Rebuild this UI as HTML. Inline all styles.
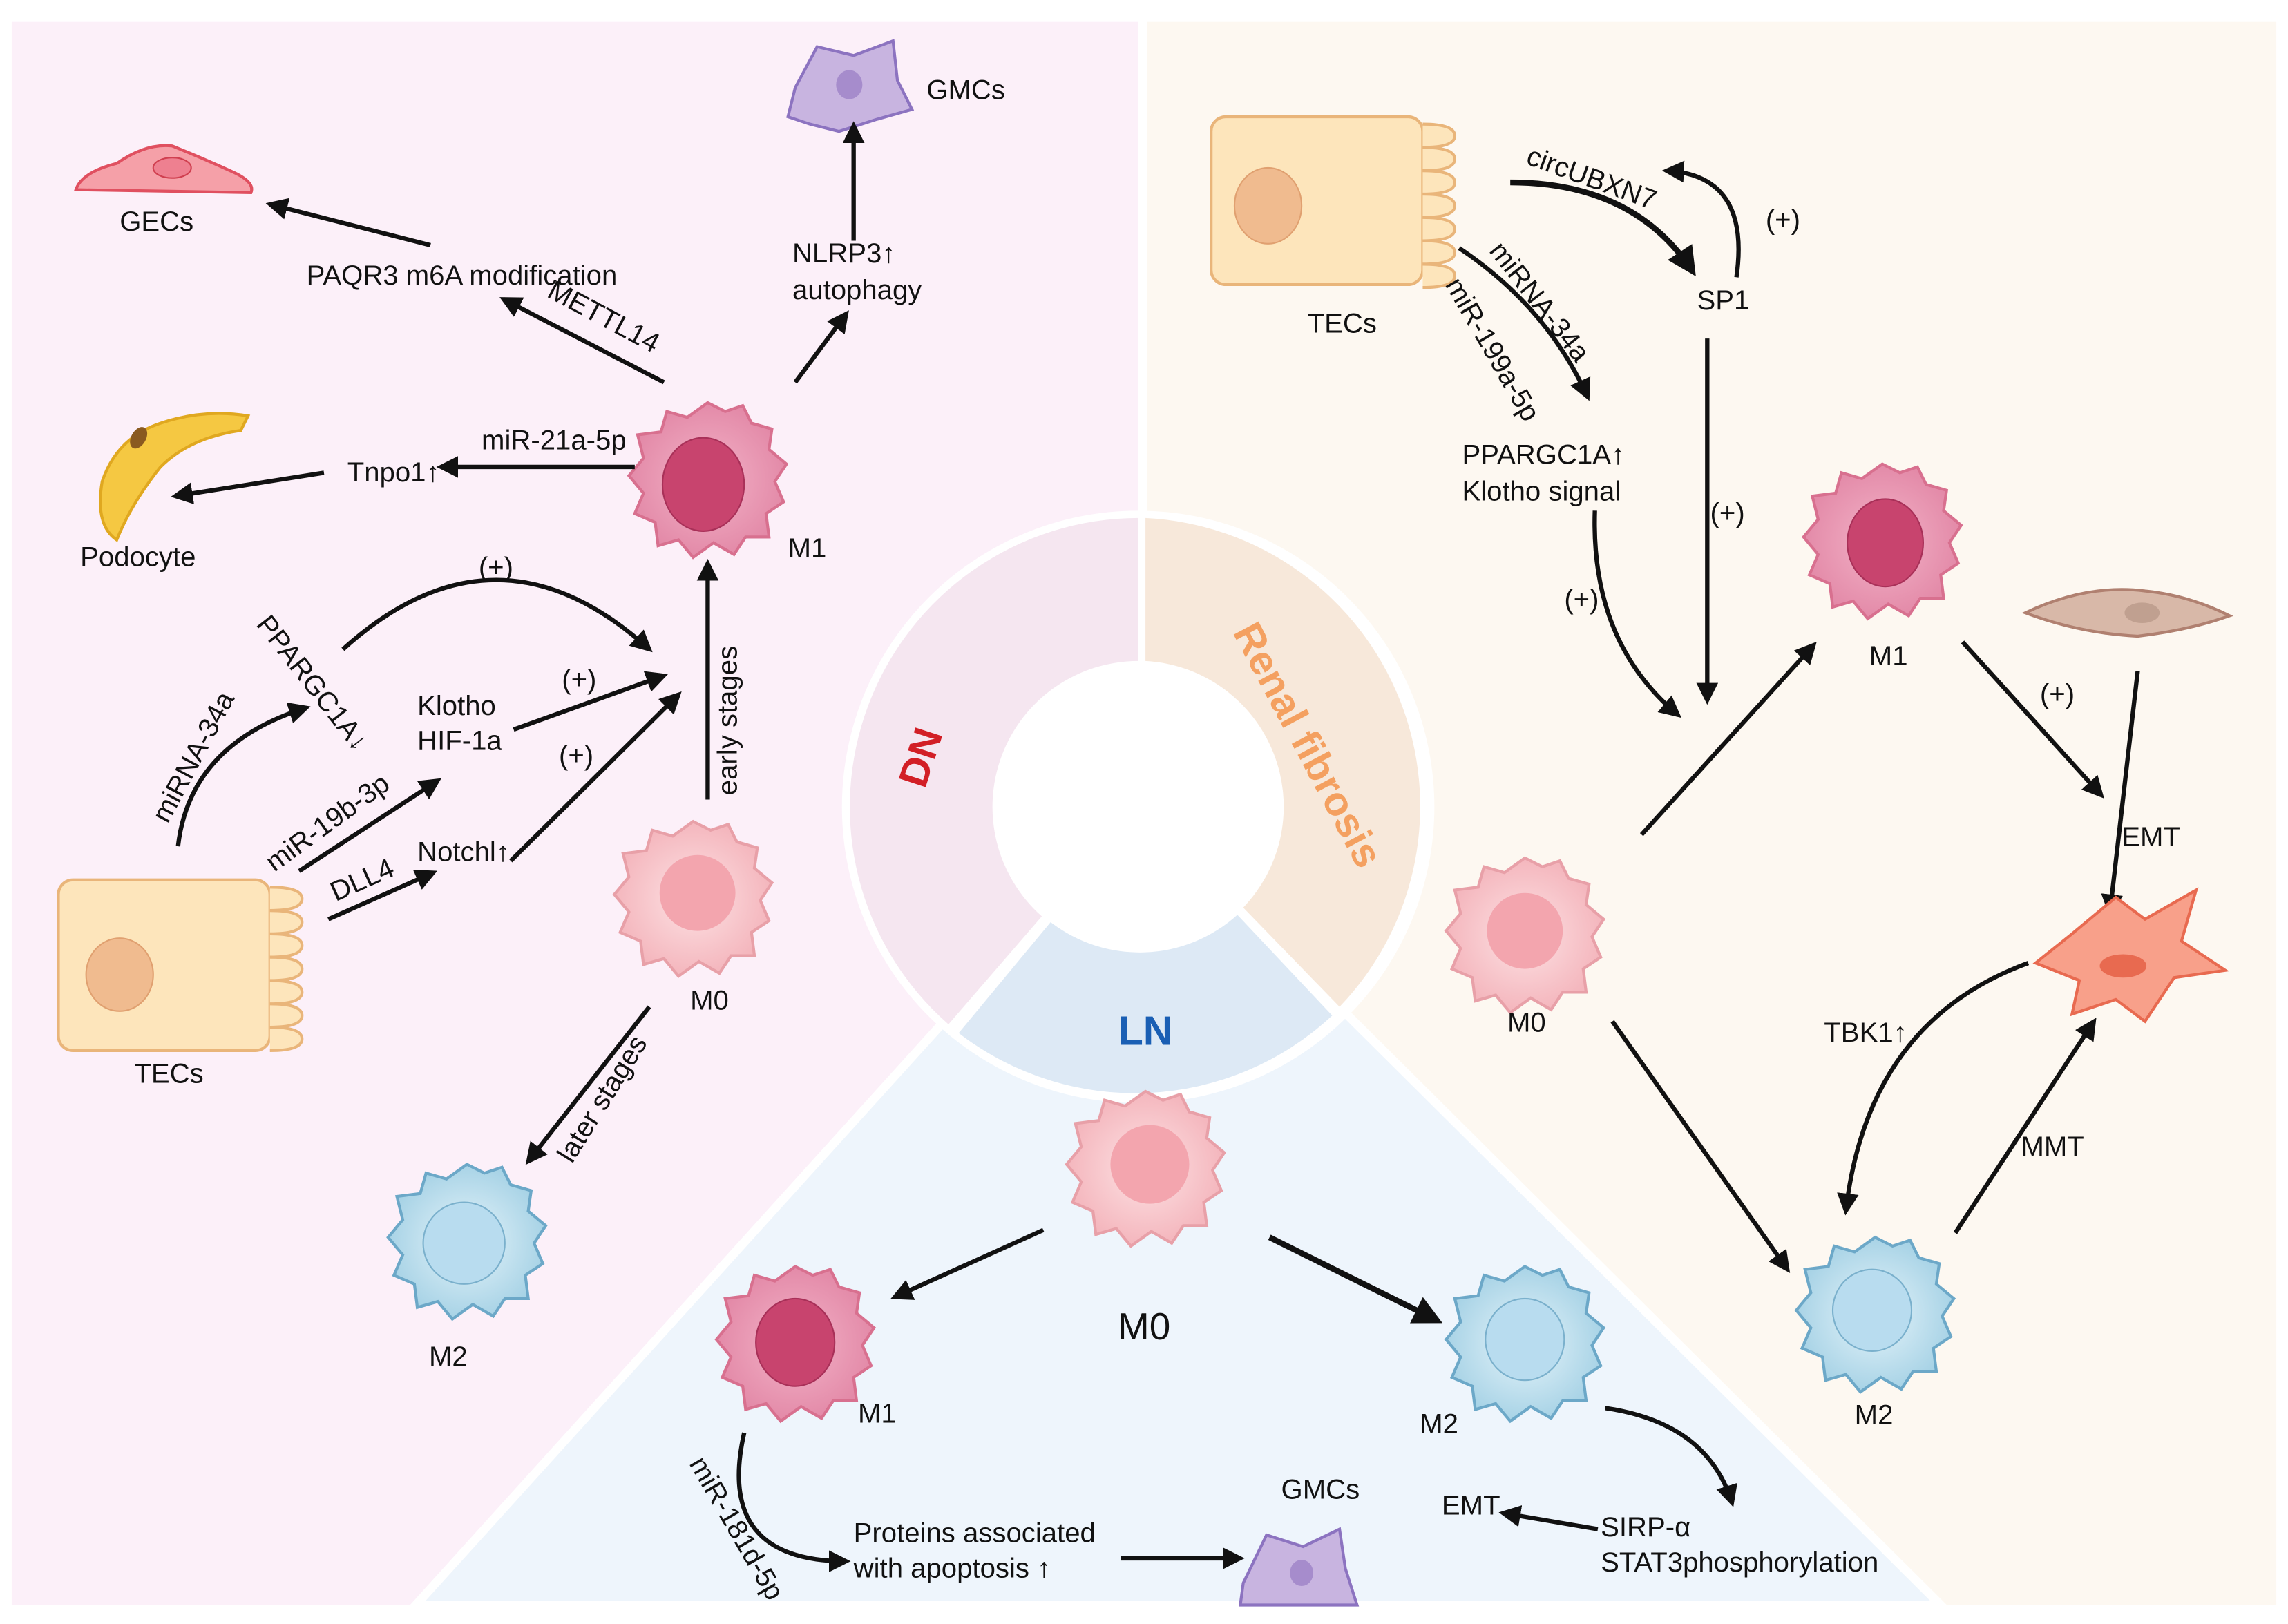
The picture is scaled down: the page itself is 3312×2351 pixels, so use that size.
<!DOCTYPE html>
<html><head><meta charset="utf-8"><style>
html,body{margin:0;padding:0;background:#fff;}
svg{display:block;}
text{font-family:"Liberation Sans",Arial,sans-serif;fill:#111;font-size:19px;}
</style></head><body>
<svg width="3312" height="2351" viewBox="0 0 1568 1113" xmlns="http://www.w3.org/2000/svg">
<defs>
<marker id="ah" viewBox="0 0 10 10" refX="8" refY="5" markerWidth="5" markerHeight="5" orient="auto-start-reverse"><path d="M0,0 L10,5 L0,10 z" fill="#111"/></marker>
<radialGradient id="m1g" cx="50%" cy="50%" r="50%"><stop offset="0" stop-color="#f3b3c8"/><stop offset="1" stop-color="#e38aa8"/></radialGradient>
<radialGradient id="m0g" cx="50%" cy="50%" r="50%"><stop offset="0" stop-color="#fde2e4"/><stop offset="1" stop-color="#f4b6bd"/></radialGradient>
<radialGradient id="m2g" cx="50%" cy="50%" r="50%"><stop offset="0" stop-color="#e6f4fa"/><stop offset="1" stop-color="#a8d3e6"/></radialGradient>
<g id="blob"><path d="M0,-52 L12,-46 L24,-50 L30,-38 L44,-34 L42,-20 L54,-10 L46,2 L52,16 L40,24 L42,40 L26,40 L18,52 L4,44 L-10,54 L-20,42 L-34,46 L-36,30 L-50,24 L-44,10 L-54,-2 L-44,-14 L-48,-30 L-32,-32 L-28,-46 L-14,-42 Z"/></g>
</defs>
<rect x="8" y="15" width="772" height="1085" fill="#fcf0f9"/>
<rect x="786" y="15" width="774" height="1085" fill="#fdf8f1"/>
<path d="M780,553 L285,1100 L1330,1100 Z" fill="#eef5fc"/>
<path d="M780,553 L285,1100 L1330,1100 Z" fill="none" stroke="#fff" stroke-width="6"/>
<circle cx="780" cy="553" r="203" fill="#fff"/>
<path d="M780,355 A198,198 0 0,0 650,702 L714,628 A100,100 0 0,1 780,453 Z" fill="#f5e6f0"/>
<path d="M785,355 A198,198 0 0,1 918,690 L852,622 A100,100 0 0,0 785,453 Z" fill="#f7e8da"/>
<path d="M657,708 A198,198 0 0,0 913,696 L848,627 A100,100 0 0,1 720,632 Z" fill="#dde9f5"/>
<circle cx="780" cy="553" r="96" fill="#fff"/>
<text x="0" y="0" transform="translate(640,522) rotate(-72)" style="font-size:28px;font-weight:bold;fill:#d21f26" text-anchor="middle">DN</text>
<text x="0" y="0" transform="translate(888,515) rotate(62)" style="font-size:28px;font-weight:bold;fill:#f4a060" text-anchor="middle">Renal fibrosis</text>
<text x="785" y="716" style="font-size:28px;font-weight:bold;fill:#1a5fb4" text-anchor="middle">LN</text>

<path d="M545,60 L560,32 L585,38 L612,28 L615,55 L625,75 L600,82 L575,90 L555,85 L540,80 Z" fill="#c8b4e0" stroke="#8c73c0" stroke-width="2"/>
<ellipse cx="582" cy="58" rx="9" ry="10" fill="#a68ccc"/>
<text x="635" y="68">GMCs</text>
<path d="M52,130 Q56,118 80,112 Q100,98 118,100 Q138,108 160,118 Q175,125 172,132 Z" fill="#f5a0a8" stroke="#e05060" stroke-width="2"/>
<ellipse cx="118" cy="115" rx="13" ry="7" fill="#ee8090" stroke="#d04050"/>
<text x="82" y="158">GECs</text>
<path d="M70,330 Q80,300 110,290 Q140,280 170,285 L165,295 Q130,300 110,320 Q90,345 80,370 Q65,360 70,330 Z" fill="#f5c842" stroke="#e0a820" stroke-width="2"/>
<ellipse cx="95" cy="300" rx="5" ry="8" fill="#8a5a20" transform="rotate(30 95 300)"/>
<text x="55" y="388">Podocyte</text>
<rect x="40" y="603" width="145" height="117" rx="10" fill="#fde5bb" stroke="#e9b57a" stroke-width="2"/>
<path d="M185,608 q22,0 22,8 q0,8 -22,8 q22,0 22,8 q0,8 -22,8 q22,0 22,8 q0,8 -22,8 q22,0 22,8 q0,8 -22,8 q22,0 22,8 q0,8 -22,8 q22,0 22,8 q0,8 -22,8 q22,0 22,8 q0,8 -22,8" fill="#fde5bb" stroke="#e9b57a" stroke-width="2"/>
<ellipse cx="82" cy="668" rx="23" ry="25" fill="#f0bb8f" stroke="#e0a070"/>
<text x="92" y="742">TECs</text>
<use href="#blob" transform="translate(485,328)" fill="url(#m1g)" stroke="#d8708f" stroke-width="2"/>
<ellipse cx="482" cy="332" rx="28" ry="32" fill="#c8446e" stroke="#a83058"/>
<text x="540" y="382">M1</text>
<use href="#blob" transform="translate(475,615)" fill="url(#m0g)" stroke="#e8a0a8" stroke-width="2"/>
<ellipse cx="478" cy="612" rx="26" ry="26" fill="#f3a5ae"/>
<text x="473" y="692">M0</text>
<use href="#blob" transform="translate(320,850)" fill="url(#m2g)" stroke="#6ca8c8" stroke-width="2"/>
<ellipse cx="318" cy="852" rx="28" ry="28" fill="#b8dcef" stroke="#7ab0cc"/>
<text x="294" y="936">M2</text>
<g stroke="#111" stroke-width="3" fill="none" marker-end="url(#ah)">
<line x1="585" y1="165" x2="585" y2="86"/>
<line x1="545" y1="262" x2="580" y2="215"/>
<line x1="295" y1="168" x2="185" y2="140"/>
<line x1="455" y1="262" x2="345" y2="205"/>
<line x1="435" y1="320" x2="302" y2="320"/>
<line x1="222" y1="324" x2="120" y2="340"/>
<path d="M235,445 Q340,350 445,445"/>
<path d="M122,580 Q130,510 210,485"/>
<line x1="352" y1="500" x2="455" y2="463"/>
<line x1="350" y1="590" x2="465" y2="476"/>
<line x1="205" y1="597" x2="300" y2="535"/>
<line x1="225" y1="630" x2="297" y2="598"/>
<line x1="485" y1="548" x2="485" y2="386"/>
<line x1="445" y1="690" x2="362" y2="796"/>
</g>
<text x="210" y="195">PAQR3 m6A modification</text>
<text x="543" y="180">NLRP3↑</text>
<text x="543" y="205">autophagy</text>
<text transform="translate(374,203) rotate(28)">METTL14</text>
<text x="330" y="308">miR-21a-5p</text>
<text x="238" y="330">Tnpo1↑</text>
<text x="328" y="395">(+)</text>
<text transform="translate(175,428) rotate(52)">PPARGC1A↓</text>
<text transform="translate(115,565) rotate(-62)">miRNA-34a</text>
<text x="286" y="490">Klotho</text>
<text x="286" y="514">HIF-1a</text>
<text x="385" y="472">(+)</text>
<text x="383" y="524">(+)</text>
<text transform="translate(188,598) rotate(-36)">miR-19b-3p</text>
<text transform="translate(230,618) rotate(-24)">DLL4</text>
<text x="286" y="590">Notchl↑</text>
<text transform="translate(505,545) rotate(-90)">early stages</text>
<text transform="translate(392,798) rotate(-58)">later stages</text>

<rect x="830" y="80" width="145" height="115" rx="10" fill="#fde5bb" stroke="#e9b57a" stroke-width="2"/>
<path d="M975,85 q22,0 22,8 q0,8 -22,8 q22,0 22,8 q0,8 -22,8 q22,0 22,8 q0,8 -22,8 q22,0 22,8 q0,8 -22,8 q22,0 22,8 q0,8 -22,8 q22,0 22,8 q0,8 -22,8 q22,0 22,8 q0,8 -22,8" fill="#fde5bb" stroke="#e9b57a" stroke-width="2"/>
<ellipse cx="869" cy="141" rx="23" ry="26" fill="#f0bb8f" stroke="#e0a070"/>
<text x="896" y="228">TECs</text>
<g stroke="#111" stroke-width="3" fill="none" marker-end="url(#ah)">
<path d="M1035,125 Q1120,125 1160,186" stroke-width="4"/>
<path d="M1190,190 Q1200,120 1142,117"/>
<path d="M1000,170 Q1060,210 1088,272"/>
<line x1="1170" y1="232" x2="1170" y2="480"/>
<path d="M1093,350 Q1090,440 1150,490"/>
<line x1="1125" y1="572" x2="1243" y2="442"/>
<line x1="1345" y1="440" x2="1440" y2="545"/>
<line x1="1465" y1="460" x2="1446" y2="625"/>
<path d="M1390,660 Q1280,700 1265,830"/>
<line x1="1340" y1="845" x2="1435" y2="700"/>
<line x1="1105" y1="700" x2="1225" y2="870"/>
</g>
<text transform="translate(1045,112) rotate(20)">circUBXN7</text>
<text x="1163" y="212">SP1</text>
<text x="1210" y="157">(+)</text>
<text transform="translate(1020,172) rotate(52)">miRNA-34a</text>
<text transform="translate(990,195) rotate(60)">miR-199a-5p</text>
<text x="1002" y="318">PPARGC1A↑</text>
<text x="1002" y="343">Klotho signal</text>
<text x="1172" y="358">(+)</text>
<text x="1072" y="417">(+)</text>
<use href="#blob" transform="translate(1290,370)" fill="url(#m1g)" stroke="#d8708f" stroke-width="2"/>
<ellipse cx="1292" cy="372" rx="26" ry="30" fill="#c8446e" stroke="#a83058"/>
<text x="1281" y="456">M1</text>
<path d="M1388,420 Q1430,400 1470,405 Q1500,408 1528,422 Q1500,432 1465,436 Q1425,434 1388,420 Z" fill="#d8b8a8" stroke="#b08070" stroke-width="2"/>
<ellipse cx="1468" cy="420" rx="12" ry="7" fill="#c0a090"/>
<text x="1398" y="482">(+)</text>
<text x="1454" y="580">EMT</text>
<path d="M1395,660 L1420,640 L1450,615 L1470,630 L1505,610 L1495,645 L1525,665 L1490,670 L1470,700 L1450,685 L1420,695 L1425,672 Z" fill="#f8a08a" stroke="#e86a50" stroke-width="2"/>
<ellipse cx="1455" cy="662" rx="16" ry="8" fill="#e86a50"/>
<use href="#blob" transform="translate(1045,640)" fill="url(#m0g)" stroke="#e8a0a8" stroke-width="2"/>
<ellipse cx="1045" cy="638" rx="26" ry="26" fill="#f3a5ae"/>
<text x="1033" y="707">M0</text>
<text x="1250" y="714">TBK1↑</text>
<text x="1385" y="792">MMT</text>
<use href="#blob" transform="translate(1285,900)" fill="url(#m2g)" stroke="#6ca8c8" stroke-width="2"/>
<ellipse cx="1283" cy="898" rx="27" ry="28" fill="#b8dcef" stroke="#7ab0cc"/>
<text x="1271" y="976">M2</text>

<use href="#blob" transform="translate(785,800)" fill="url(#m0g)" stroke="#e8a0a8" stroke-width="2"/>
<ellipse cx="788" cy="798" rx="27" ry="27" fill="#f3a5ae"/>
<text x="766" y="918" style="font-size:26px">M0</text>
<use href="#blob" transform="translate(545,920)" fill="url(#m1g)" stroke="#d8708f" stroke-width="2"/>
<ellipse cx="545" cy="920" rx="27" ry="30" fill="#c8446e" stroke="#a83058"/>
<text x="588" y="975">M1</text>
<use href="#blob" transform="translate(1045,920)" fill="url(#m2g)" stroke="#6ca8c8" stroke-width="2"/>
<ellipse cx="1045" cy="918" rx="27" ry="28" fill="#b8dcef" stroke="#7ab0cc"/>
<text x="973" y="982">M2</text>
<g stroke="#111" stroke-width="3" fill="none" marker-end="url(#ah)">
<line x1="715" y1="843" x2="613" y2="889"/>
<line x1="870" y1="848" x2="985" y2="905" stroke-width="4"/>
<path d="M510,982 Q490,1070 580,1070"/>
<line x1="768" y1="1068" x2="850" y2="1068"/>
<path d="M1100,965 Q1170,975 1187,1030"/>
<line x1="1095" y1="1048" x2="1030" y2="1037"/>
</g>
<text transform="translate(472,1003) rotate(60)">miR-181d-5p</text>
<text x="585" y="1057">Proteins associated</text>
<text x="585" y="1081">with apoptosis ↑</text>
<path d="M852,1085 L868,1052 L893,1060 L918,1048 L922,1075 L930,1100 L850,1100 Z" fill="#c8b4e0" stroke="#8c73c0" stroke-width="2"/>
<ellipse cx="892" cy="1078" rx="8" ry="9" fill="#a68ccc"/>
<text x="878" y="1027">GMCs</text>
<text x="988" y="1038">EMT</text>
<text x="1097" y="1053">SIRP-α</text>
<text x="1097" y="1077">STAT3phosphorylation</text>
</svg>
</body></html>
